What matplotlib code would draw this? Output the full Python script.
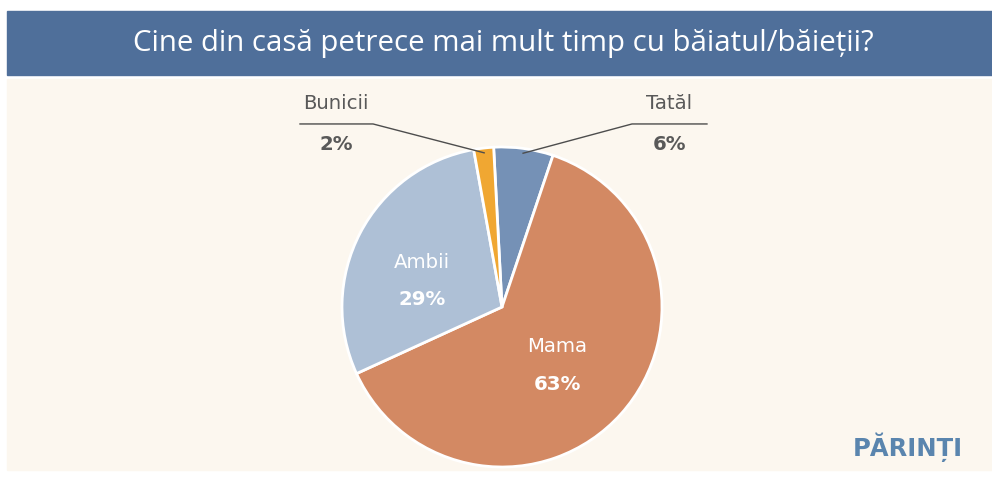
import numpy as np
import matplotlib
matplotlib.use("Agg")
import matplotlib.pyplot as plt
from matplotlib.patches import Rectangle

# data
labels = ["Tatăl", "Mama", "Ambii", "Bunicii"]
values = [6, 63, 29, 2]
pct_text = ["6%", "63%", "29%", "2%"]
title = "Cine din casă petrece mai mult timp cu băiatul/băieții?"
brand = "PĂRINȚI"

colors = ["#7591b6", "#d38963", "#aec0d6", "#f0a732"]
banner_col = "#4f6f9a"
bg_col = "#fcf7ef"
label_col = "#595959"

W, H = 992, 479
fig = plt.figure(figsize=(W / 100, H / 100), dpi=100)
fig.patch.set_facecolor("white")

# background panels (pixel coordinates converted to figure fraction)
def px_rect(x0, y0, x1, y1, color):
    fig.patches.append(Rectangle((x0 / W, 1 - y1 / H), (x1 - x0) / W, (y1 - y0) / H,
                                 transform=fig.transFigure, color=color, zorder=-5))

px_rect(7, 11, W, 75, banner_col)
px_rect(7, 79, W, 470, bg_col)

fig.text(503 / W, 1 - 44 / H, title, ha="center", va="center", color="white",
         fontsize=21.2, family="Open Sans")
fig.text(908 / W, 1 - 447 / H, brand, ha="center", va="center", color="#5a85ae",
         fontsize=17.5, fontweight="bold", family="DejaVu Sans")

# pie: centre (502, 307), radius 160 px
cx, cy, r = 502, 307, 160
ax = fig.add_axes([(cx - r) / W, (H - cy - r) / H, 2 * r / W, 2 * r / H])
ax.set_facecolor("none")
wedges, _ = ax.pie(values, colors=colors, startangle=93, counterclock=False,
                   wedgeprops=dict(edgecolor="white", linewidth=2.0))
ax.set_xlim(-1, 1)
ax.set_ylim(-1, 1)
ax.set_aspect("equal")
ax.axis("off")

fs = 14.2

# inner labels
inner = {1: (0.344, -0.25, -0.4875), 2: (-0.5, 0.281, 0.044)}
for i, (x, y1, y2) in inner.items():
    ax.text(x, y1, labels[i], ha="center", va="center", color="white",
            fontsize=fs, family="DejaVu Sans", clip_on=False)
    ax.text(x, y2, pct_text[i], ha="center", va="center", color="white",
            fontsize=fs, fontweight="bold", family="DejaVu Sans", clip_on=False)

# outer labels with leader lines
outer = {0: (0.8125, 1.281, 1.044), 3: (-0.806, -1.2625, -1.0375)}
for i, (elbow_x, end_x, tx) in outer.items():
    w = wedges[i]
    mid = np.deg2rad((w.theta1 + w.theta2) / 2)
    px, py = 0.97 * np.cos(mid), 0.97 * np.sin(mid)
    ey = 1.144
    ax.plot([px, elbow_x, end_x], [py, ey, ey], color="#4d4d4d", lw=1.0,
            clip_on=False, zorder=5)
    ax.text(tx, 1.269, labels[i], ha="center", va="center", color=label_col,
            fontsize=fs, family="DejaVu Sans", clip_on=False)
    ax.text(tx, 1.0125, pct_text[i], ha="center", va="center", color=label_col,
            fontsize=fs, fontweight="bold", family="DejaVu Sans", clip_on=False)

fig.savefig("out.png", dpi=100, facecolor=fig.get_facecolor())
